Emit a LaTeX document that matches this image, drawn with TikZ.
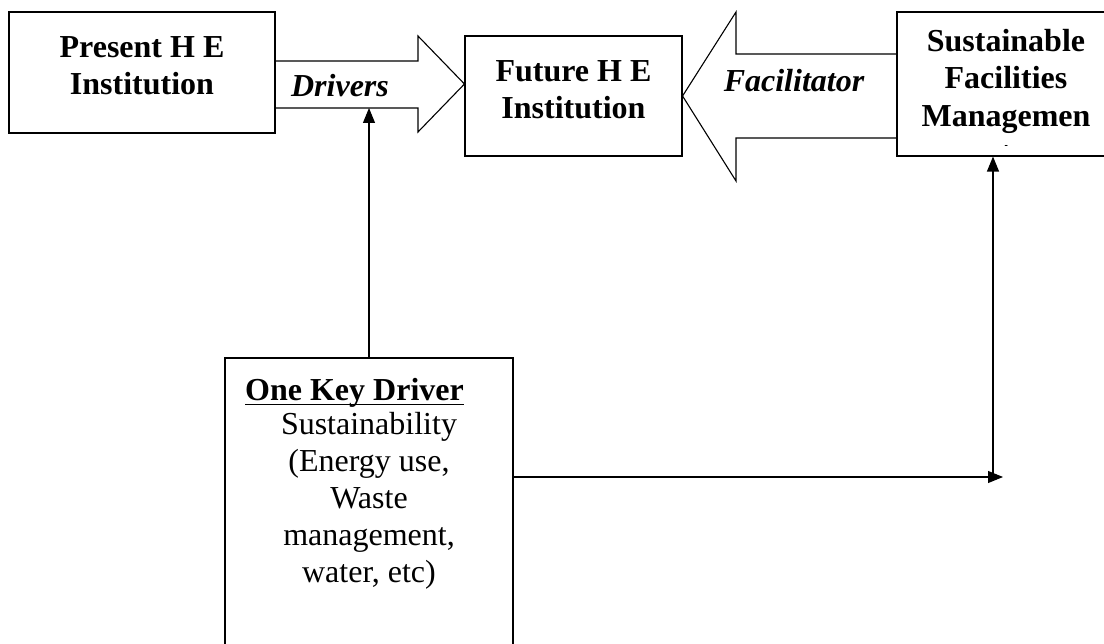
\documentclass[tikz,border=0pt]{standalone}
\usepackage{fontspec}
\setmainfont{Liberation Serif}
\usetikzlibrary{arrows.meta}
\newcommand{\keyline}[1]{\setbox0\hbox{#1}\rlap{\rule[-4.5pt]{\wd0}{1.6pt}}\box0}
\tikzset{
  box/.style={draw, line width=1.1pt, inner sep=0pt},
  boxtext/.style={font=\fontsize{32}{37.5}\selectfont\bfseries, align=center, inner sep=0pt, anchor=north},
  bodytext/.style={font=\fontsize{32}{37}\selectfont, align=center, inner sep=0pt, anchor=north},
  arrowtext/.style={font=\fontsize{32}{37}\selectfont\bfseries\itshape, inner sep=0pt, anchor=base},
  blockarrow/.style={line width=1.1pt, line join=miter},
  link/.style={line width=1.1pt, -{Triangle[length=15pt,width=12pt]}},
}
\begin{document}
\begin{tikzpicture}[x=1pt,y=-1pt]
  \useasboundingbox (0,0) rectangle (1104,644);
  \clip (0,0) rectangle (1104,644);
  % boxes
  \node[box, minimum width=266pt, minimum height=121pt] (present) at (142,72.5) {};
  \node[box, minimum width=217pt, minimum height=120pt] (future) at (573.5,96) {};
  \node[box, minimum width=218pt, minimum height=144pt] (sfm) at (1006,84) {};
  \node[box, minimum width=288pt, minimum height=332pt] (key) at (369,524) {};
  % block arrows
  \draw[blockarrow] (present.east |- 0,61) -- (418,61) -- (418,36) -- (future.west |- 0,84)
    -- (418,132) -- (418,108) -- (present.east |- 0,108);
  \draw[blockarrow] (sfm.west |- 0,54) -- (736,54) -- (736,12) -- (future.east)
    -- (736,181) -- (736,138) -- (sfm.west |- 0,138);
  % texts
  \node[boxtext] (presenttxt) at (142,36) {Present H E\\Institution};
  \node[boxtext] (futuretxt) at (573.5,60) {Future H E\\Institution};
  \begin{scope}
    \clip (sfm.south west) rectangle ([yshift=8pt]sfm.north east);
    \clip (0,0) rectangle (1104,146);
    \node[boxtext] (sfmtxt) at (1006,29) {Sustainable\\Facilities\\Managemen\\t};
  \end{scope}
  \node[arrowtext] (drivers) at (340,97) {Drivers};
  \node[arrowtext] (facil) at (794,92) {Facilitator};
  \node[font=\fontsize{32}{37}\selectfont\bfseries, inner sep=0pt, anchor=base west] (keytitle) at (245,401) {\keyline{One Key Driver}};
  \node[bodytext] (keybody) at (369,412) {Sustainability\\(Energy use,\\Waste\\management,\\water, etc)};
  % connectors
  \coordinate (drvfoot) at (369,108);
  \coordinate (bend) at (993,477);
  \draw[link] (key.north) -- (drvfoot);
  \draw[link] (key.east |- bend) -- ([xshift=10pt]bend);
  \draw[link] (bend) -- (sfm.south -| bend);
\end{tikzpicture}
\end{document}
